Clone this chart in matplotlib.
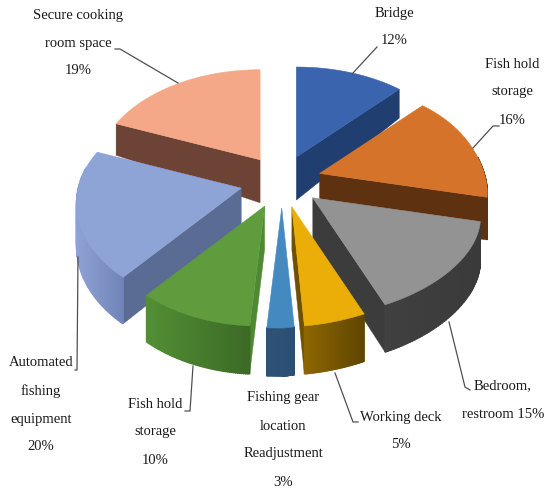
import numpy as np
import matplotlib
matplotlib.use("Agg")
import matplotlib.pyplot as plt

categories = ["Bridge", "Fish hold\nstorage", "Bedroom,\nrestroom", "Working deck",
              "Fishing gear\nlocation\nReadjustment", "Fish hold\nstorage",
              "Automated\nfishing\nequipment", "Secure cooking\nroom space"]
values = [12, 16, 15, 5, 3, 10, 20, 19]
top_colors = ["#3A64AD", "#D6732A", "#939393", "#EBAE08", "#4589C1", "#5F9C3E", "#8EA3D6", "#F4A887"]
cut_colors = ["#213E70", "#5E3110", "#3C3C3C", "#6E5000", "#2B5177", "#4F8A33", "#5A6C94", "#6C4334"]
rim_left = ["#213E70", "#5E3110", "#404040", "#8F6700", "#2C5378", "#528F34", "#8EA2D4", "#6C4334"]
rim_right = ["#213E70", "#5E3110", "#3A3A3A", "#5E4500", "#2B4F73", "#3C6A26", "#7285BA", "#6C4334"]
draw_order = [0, 7, 1, 6, 2, 5, 3, 4]
# which straight cut of each slice faces the viewer: 0 = clockwise-start edge, 1 = end edge
visible_cut = [1, 1, 1, 1, None, 0, 0, 0]
tip_nudge_x = [0, 0.5, 0, -1, -1.5, -3, -3, 0]

label_x = [394, 512, 503, 401, 283, 155, 41, 78]
label_y = [13, 64, 386, 417, 398, 404, 363, 15]
leaders = [
    [(352, 74), (377, 47)],
    [(473, 148), (493, 126), (499, 126)],
    [(449, 322), (465, 387), (470, 390)],
    [(335, 373), (353, 422), (358, 422)],
    None,
    [(193, 366), (190, 411), (185, 411)],
    [(78, 257), (77, 370), (75, 370)],
    [(178, 83), (120, 49), (115, 49)],
]

plt.rcParams["font.family"] = ["Liberation Serif", "DejaVu Serif"]
fig = plt.figure(figsize=(5.46, 4.92), dpi=100, facecolor="white")
ax = fig.add_axes([0, 0, 1, 1])
ax.set_xlim(0, 546)
ax.set_ylim(492, 0)
ax.axis("off")

CX, CY, EX, EY = 282.0, 181.6, 39.0, 26.4
A_R, A_L, B, K = 166.0, 163.0, 102.9, 1 / 7


def outer(theta):
    X, Y = np.sin(theta), -np.cos(theta)
    s = 1 / (1 - K * Y)
    A = np.where(X > 0, A_R, A_L)
    front = np.clip(Y, 0, None) ** 3
    shear = 12 * front * np.clip(X / 0.1, 0, 1) + 3 * front * np.clip(-X / 0.05, 0, 1)
    bulge = 5 * np.exp(-(Y / 0.4) ** 2) * (X > 0)
    return A * X * s - shear, B * Y * s + bulge, Y


def depth(Y):
    return np.interp(Y, [-1, -0.7, -0.3, 0.2, 1], [27, 29, 32, 43, 48])


def mix(c1, c2, t):
    a = np.array(matplotlib.colors.to_rgb(c1))
    b = np.array(matplotlib.colors.to_rgb(c2))
    return a + (b - a) * t


fractions = np.array(values, dtype=float) / sum(values)
edges = np.concatenate([[0], np.cumsum(fractions)]) * 2 * np.pi

for z, i in enumerate(draw_order):
    a0, a1 = edges[i], edges[i + 1]
    mid = (a0 + a1) / 2
    tx = CX + EX * np.sin(mid) + tip_nudge_x[i]
    ty = CY - EY * np.cos(mid)
    th = np.linspace(a0, a1, 60)
    dx, dy, Y = outer(th)
    px, py = tx + dx, ty + dy
    d = depth(Y)
    d_tip = 43.0

    if visible_cut[i] is not None:
        e = 0 if visible_cut[i] == 0 else -1
        ax.fill([tx, px[e], px[e], tx], [ty, py[e], py[e] + d[e], ty + d_tip],
                color=cut_colors[i], lw=0.3, zorder=1 + z)

    for j in range(len(th) - 1):
        if np.cos((th[j] + th[j + 1]) / 2) < 0.2:
            t = (px[j] - px.min()) / max(1e-6, np.ptp(px))
            ax.fill([px[j], px[j + 1], px[j + 1], px[j]],
                    [py[j], py[j + 1], py[j + 1] + d[j + 1], py[j] + d[j]],
                    color=mix(rim_left[i], rim_right[i], t), lw=1.0, zorder=1 + z)

    ax.fill(np.r_[tx, px], np.r_[ty, py], color=top_colors[i], lw=0.4, zorder=1 + z)

PITCH = 28
for i, (name, v) in enumerate(zip(categories, values)):
    text_lines = name.split("\n")
    if name.endswith("restroom"):
        text_lines[-1] += f" {v}%"
    else:
        text_lines.append(f"{v}%")
    for k, line in enumerate(text_lines):
        ax.text(label_x[i], label_y[i] + k * PITCH, line, ha="center", va="center",
                fontsize=10.5, color="#1a1a1a", zorder=30)
    if leaders[i]:
        xs, ys = zip(*leaders[i])
        ax.plot(xs, ys, color="#505050", lw=0.9, zorder=29)

fig.savefig("out.png", dpi=100, facecolor="white")
